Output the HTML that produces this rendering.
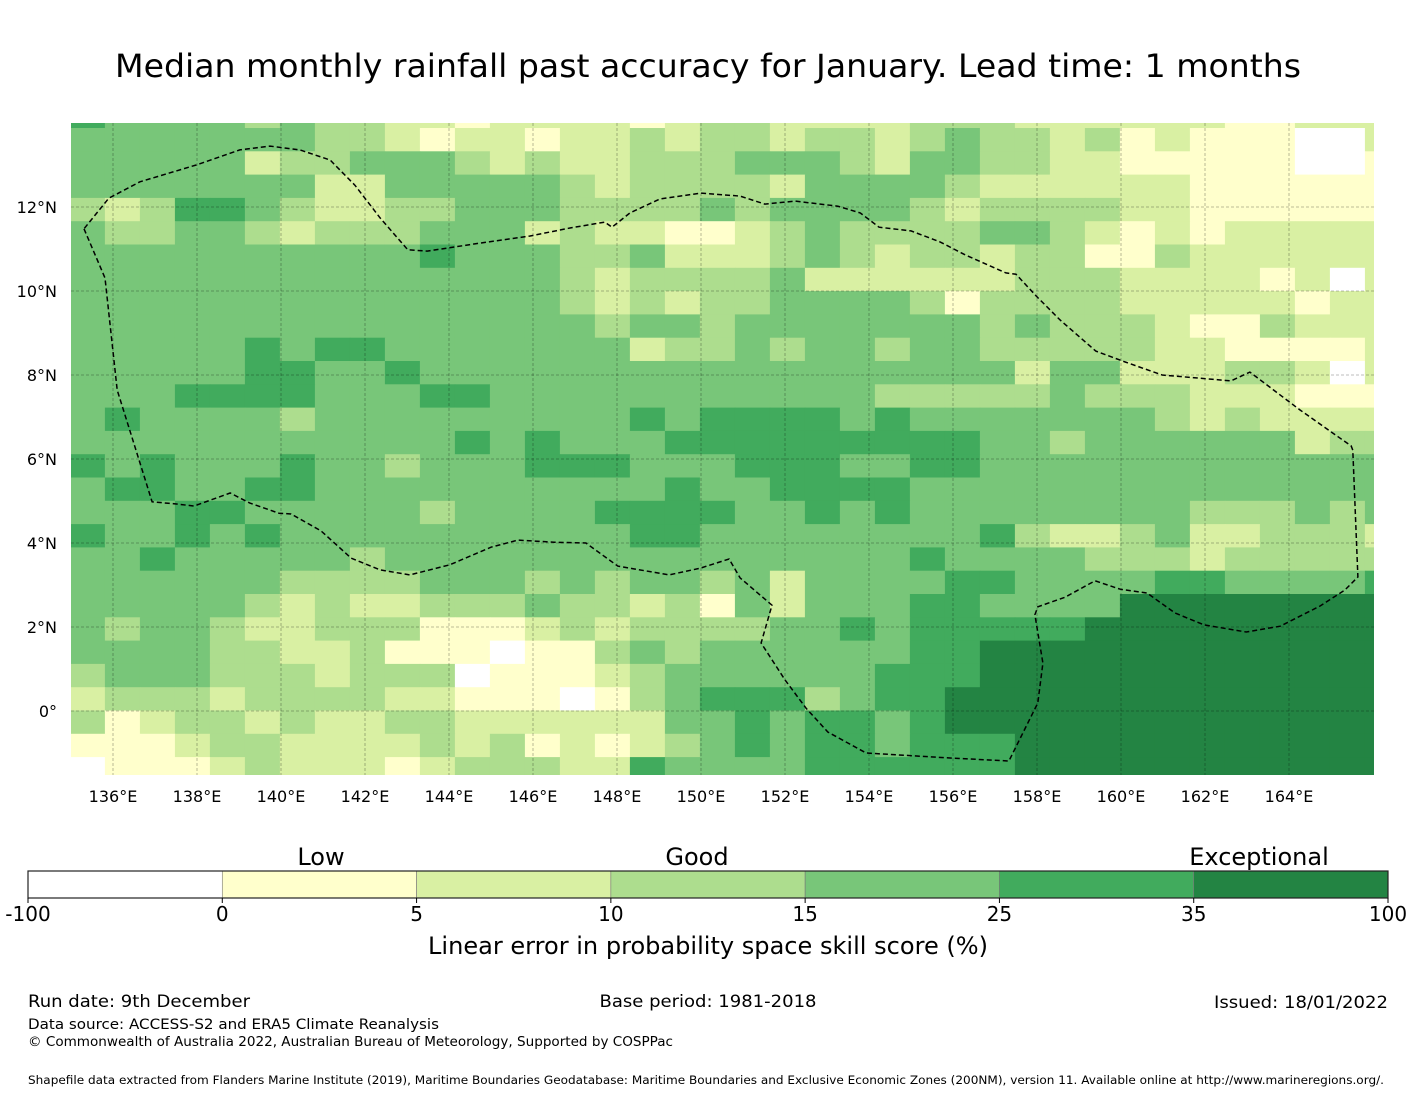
<!DOCTYPE html>
<html><head><meta charset="utf-8"><title>Median monthly rainfall past accuracy</title>
<style>
html,body{margin:0;padding:0;background:#fff;}
svg{display:block;font-family:"DejaVu Sans","Liberation Sans",sans-serif;}
</style></head>
<body>
<svg id="chart" width="1416" height="1095" viewBox="0 0 1416 1095" xmlns="http://www.w3.org/2000/svg">
  <text x="708" y="77" text-anchor="middle" font-size="32" textLength="1186" lengthAdjust="spacingAndGlyphs">Median monthly rainfall past accuracy for January. Lead time: 1 months</text>
  <defs><clipPath id="mapclip"><rect x="71" y="123" width="1303" height="652"/></clipPath></defs>
  <g id="cells" clip-path="url(#mapclip)"></g>
  <g id="grid" clip-path="url(#mapclip)"></g>
  <g id="eez" clip-path="url(#mapclip)"></g>
  <g id="xticks"></g>
  <g id="yticks"></g>
  <g id="cbar"></g>
  <text x="321" y="865" text-anchor="middle" font-size="24">Low</text>
  <text x="697" y="865" text-anchor="middle" font-size="24">Good</text>
  <text x="1259" y="865" text-anchor="middle" font-size="24">Exceptional</text>
  <text x="708" y="954" text-anchor="middle" font-size="24" textLength="560" lengthAdjust="spacingAndGlyphs">Linear error in probability space skill score (%)</text>
  <text x="28" y="1007" font-size="17" textLength="222" lengthAdjust="spacingAndGlyphs">Run date: 9th December</text>
  <text x="708" y="1007" text-anchor="middle" font-size="17" textLength="217" lengthAdjust="spacingAndGlyphs">Base period: 1981-2018</text>
  <text x="1388" y="1008" text-anchor="end" font-size="17" textLength="174" lengthAdjust="spacingAndGlyphs">Issued: 18/01/2022</text>
  <text x="28" y="1029" font-size="14.5" textLength="411" lengthAdjust="spacingAndGlyphs">Data source: ACCESS-S2 and ERA5 Climate Reanalysis</text>
  <text x="28" y="1046" font-size="13" textLength="645" lengthAdjust="spacingAndGlyphs">© Commonwealth of Australia 2022, Australian Bureau of Meteorology, Supported by COSPPac</text>
  <text x="28" y="1084" font-size="11.3" textLength="1356" lengthAdjust="spacingAndGlyphs">Shapefile data extracted from Flanders Marine Institute (2019), Maritime Boundaries Geodatabase: Maritime Boundaries and Exclusive Economic Zones (200NM), version 11. Available online at http://www.marineregions.org/.</text>
</svg>
<script>
// ---- data ----
const levelColors = ["#ffffff","#ffffcc","#d9f0a3","#addd8e","#78c679","#41ab5d","#238443"];
const cbarTickLabels = ["-100","0","5","10","15","25","35","100"];
const lonTicks = [136,138,140,142,144,146,148,150,152,154,156,158,160,162,164];
const latTicks = [12,10,8,6,4,2,0];
// each char = skill category (0..6) per grid cell, rows north->south, cols west->east
const cellRows = [
"54444343322122221233222233322222211222",
"44444443321221223233234332312111002",
"44444233444323223334443244332211111001",
"44444442244444323333244443222222111111",
"32355432233444333343444432333322111111",
"43344323334442322112343333443212122222",
"44444444445444334222343233233113222222",
"44444444444444323333422222233322221202",
"44444444444444323233444431333322222122",
"44444444444444434434444444343332113222",
"44444545544444442334344344333332211112",
"44444554454444444444444444424422233202",
"44455554445544444444444333334333222111",
"45444434444444445455554544444443232222",
"44444444444545444555555555443444444233",
"54544454434445554445554455444444444444",
"45544554444444444544555544444444444444",
"44455444443444455554454544444444333434",
"54454544444444445544444444532234223332",
"44544444344444444444444454444333233333",
"44444433334443434434244445544445544445",
"44444323223334332314244455444466666666",
"43443223331112323333445455555666666666",
"44443322311101134344444455666666666666",
"34443332333011123444444555666666666666",
"23332333322111013455534556666666666666",
"31233232233222222445455456666666666666",
"11123322223231212345455455566666666666",
"01112322212333225444455555566666666666"
];
cellRows[1] = "4444444332122122323"+"3233234332312111002";
// EEZ boundary outline, degrees
const eezLon = [135.31,135.81,136.10,136.57,136.93,137.48,137.93,138.79,139.26,139.95,140.24,140.95,141.67,142.36,143.07,144.02,145.0,145.64,146.5,147.26,148.02,149.24,149.98,150.67,150.93,151.69,151.43,152.0,152.5,153.02,153.93,155.93,157.33,158.02,158.14,157.95,158.02,158.67,159.38,159.98,160.62,161.29,161.98,162.98,163.79,164.74,165.33,165.64,165.52,165.48,164.26,163.07,162.62,160.98,160.1,159.4,158.55,157.98,157.5,157.26,156.29,155.69,155.0,154.24,153.79,153.26,152.24,151.52,150.93,150.0,149.02,148.31,147.88,147.71,146.88,145.93,144.74,143.48,143.02,142.36,141.76,141.17,140.45,139.74,139.02,137.98,136.64,135.9,135.31];
const eezLat = [11.48,10.31,7.64,6.14,4.98,4.93,4.88,5.19,4.95,4.71,4.69,4.29,3.64,3.36,3.24,3.48,3.9,4.07,4.02,4.0,3.45,3.24,3.4,3.62,3.17,2.52,1.62,0.74,0.07,-0.5,-1.0,-1.12,-1.19,0.19,1.14,2.29,2.48,2.71,3.1,2.9,2.81,2.33,2.05,1.88,2.02,2.5,2.88,3.19,6.21,6.31,7.17,8.07,7.86,8.0,8.31,8.57,9.31,9.88,10.4,10.43,10.86,11.17,11.43,11.52,11.86,12.02,12.14,12.07,12.26,12.33,12.19,11.86,11.52,11.64,11.5,11.31,11.14,10.95,10.98,11.74,12.52,13.12,13.36,13.45,13.36,13.0,12.6,12.21,11.48];
// ---- axes ----
const cellW = 35, cellH = 23.3, gridX0 = 69.9, gridY0 = 104.7;
function colX(c){ return gridX0 + c*cellW; }
function rowY(r){ return gridY0 + r*cellH; }
function lonX(lon){ return 113 + (lon-136)*42; }
function latY(lat){ return 711 - lat*42; }
const NS="http://www.w3.org/2000/svg";
function mk(tag, attrs, parent){ const e=document.createElementNS(NS,tag); for(const k in attrs) e.setAttribute(k,attrs[k]); parent.appendChild(e); return e; }

const gCells=document.getElementById('cells');
cellRows.forEach((row,r)=>{
  for(let c=0;c<38;c++){
    const v = parseInt(row.charAt(c)||"4",10);
    const rc = mk('rect',{x:colX(c),y:rowY(r),width:cellW+0.4,height:cellH+0.4,fill:levelColors[v]},gCells);
    
    
  }
});
const gGrid=document.getElementById('grid');
lonTicks.forEach(l=>{
  const ln=mk('line',{x1:lonX(l),x2:lonX(l),y1:123,y2:775,stroke:"#000","stroke-opacity":0.35,"stroke-width":0.8,"stroke-dasharray":"3,2"},gGrid);
  
  
});
latTicks.forEach(l=>{
  const ln=mk('line',{x1:71,x2:1374,y1:latY(l),y2:latY(l),stroke:"#000","stroke-opacity":0.35,"stroke-width":0.8,"stroke-dasharray":"3,2"},gGrid);
  
  
});
const gE=document.getElementById('eez');
const pts=eezLon.map((lo,i)=>lonX(lo).toFixed(1)+","+latY(eezLat[i]).toFixed(1)).join(" ");
const pl=mk('polyline',{points:pts,fill:"none",stroke:"#000","stroke-width":1.5,"stroke-dasharray":"5,3"},gE);



const gX=document.getElementById('xticks');
lonTicks.forEach(l=>{
  const t=mk('text',{x:lonX(l),y:802,"text-anchor":"middle","font-size":16},gX);
  t.textContent=l+"°E";
  
  
});
const gY=document.getElementById('yticks');
latTicks.forEach(l=>{
  const t=mk('text',{x:57,y:latY(l)+6,"text-anchor":"end","font-size":16},gY);
  t.textContent = l===0 ? "0°" : l+"°N";
  
  
});
const gC=document.getElementById('cbar');
const cbX0=28, cbX1=1388, cbY=871, cbH=27, segW=(cbX1-cbX0)/levelColors.length;
levelColors.forEach((col,i)=>{
  const r=mk('rect',{x:cbX0+i*segW,y:cbY,width:segW,height:cbH,fill:col,stroke:"#777","stroke-width":0.6},gC);
  
  
});
const fr=mk('rect',{x:cbX0,y:cbY,width:cbX1-cbX0,height:cbH,fill:"none",stroke:"#222","stroke-width":1.2},gC);


cbarTickLabels.forEach((lab,i)=>{
  const x=cbX0+i*segW;
  const tk=mk('line',{x1:x,x2:x,y1:cbY+cbH,y2:cbY+cbH+5,stroke:"#000","stroke-width":1},gC);
  
  
  const t=mk('text',{x:x,y:921,"text-anchor":"middle","font-size":20},gC);
  t.textContent=lab;
  
  
});
</script>
</body></html>
